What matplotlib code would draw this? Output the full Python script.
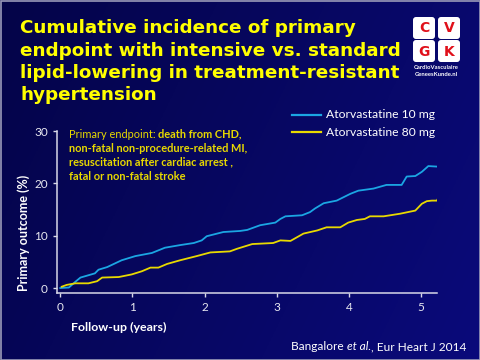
import numpy as np
import matplotlib
matplotlib.use('Agg')
import matplotlib.pyplot as plt
from matplotlib.patches import FancyBboxPatch, Rectangle

# ============================================================
# Data
# ============================================================
t_10mg = [0.0, 0.12, 0.21, 0.28, 0.48, 0.53, 0.65, 0.85, 1.04, 1.27, 1.45, 1.66,
          1.85, 1.96, 2.03, 2.26, 2.49, 2.59, 2.77, 2.98, 3.05, 3.12, 3.35, 3.46,
          3.53, 3.65, 3.83, 4.02, 4.13, 4.34, 4.52, 4.73, 4.80, 4.92, 5.01, 5.10, 5.22]
y_10mg = [0.0, 0.1, 1.2, 2.0, 2.8, 3.5, 4.0, 5.3, 6.1, 6.7, 7.7, 8.2,
          8.6, 9.1, 9.9, 10.7, 10.9, 11.1, 12.0, 12.5, 13.2, 13.7, 13.9, 14.5,
          15.2, 16.2, 16.7, 18.0, 18.6, 19.0, 19.7, 19.7, 21.3, 21.4, 22.2, 23.3, 23.2]

t_80mg = [0.02, 0.09, 0.21, 0.39, 0.51, 0.58, 0.81, 0.99, 1.13, 1.25, 1.36, 1.48,
          1.66, 1.89, 2.08, 2.35, 2.45, 2.66, 2.95, 3.05, 3.19, 3.28, 3.37, 3.56,
          3.69, 3.88, 3.99, 4.11, 4.22, 4.29, 4.48, 4.71, 4.92, 5.01, 5.08, 5.15,
          5.22, 5.24]
y_80mg = [0.25, 0.6, 0.9, 0.9, 1.3, 2.0, 2.1, 2.6, 3.2, 3.9, 3.9, 4.6,
          5.3, 6.1, 6.8, 7.0, 7.5, 8.4, 8.6, 9.1, 9.0, 9.7, 10.4, 11.0,
          11.6, 11.6, 12.5, 13.0, 13.2, 13.7, 13.7, 14.2, 14.8, 16.1, 16.6, 16.7,
          16.7, 17.3]

x_ticks = [0, 1, 2, 3, 4, 5]
y_ticks = [0, 10, 20, 30]

title_lines = ['Cumulative incidence of primary',
               'endpoint with intensive vs. standard',
               'lipid-lowering in treatment-resistant',
               'hypertension']
endpoint_lines = [('Primary endpoint: ', 'death from CHD,'),
                  ('', 'non-fatal non-procedure-related MI,'),
                  ('', 'resuscitation after cardiac arrest ,'),
                  ('', 'fatal or non-fatal stroke')]
legend_labels = ['Atorvastatine 10 mg', 'Atorvastatine 80 mg']

BLUE = '#1ba6e3'
YELLOW = '#e8d900'
TITLE_YELLOW = '#ffff00'
TXT = 'Lato'

fig = plt.figure(figsize=(4.8, 3.6), dpi=100)

# background in pixel coordinates
bg = fig.add_axes([0, 0, 1, 1], zorder=0)
bg.set_xlim(0, 480)
bg.set_ylim(360, 0)
bg.axis('off')
gx = np.linspace(0, 1, 200)
gy = np.linspace(0, 1, 150)
GX, GY = np.meshgrid(gx, gy)
k = np.clip(0.55 * GX + 0.2 * GY, 0, 1)
dark = np.array([4, 4, 72]) / 255
light = np.array([12, 12, 140]) / 255
img = dark[None, None, :] * (1 - k[..., None]) + light[None, None, :] * k[..., None]
bg.imshow(img, extent=(0, 480, 360, 0), aspect='auto', zorder=0)
bg.add_patch(Rectangle((0.5, 0.5), 479, 359, fill=False, edgecolor='#9a9ab8', lw=1.2, zorder=1))

# title
for i, line in enumerate(title_lines):
    bg.text(20, 28 + i * 22.5, line, color=TITLE_YELLOW, fontsize=13.2, fontweight='bold',
            family='DejaVu Sans', va='center', ha='left', zorder=3)

# logo
letters = [('C', 413, 17), ('V', 438, 17), ('G', 413, 40), ('K', 438, 40)]
for ch, lx, ly in letters:
    bg.add_patch(FancyBboxPatch((lx + 1.5, ly + 1.5), 19, 19,
                                boxstyle='round,pad=1.5,rounding_size=3',
                                facecolor='white', edgecolor='none', zorder=3))
    bg.text(lx + 11, ly + 11.5, ch, color='#e0101a', fontsize=10, fontweight='bold',
            family='DejaVu Sans', ha='center', va='center', zorder=4)
bg.text(436.5, 67.5, 'CardioVasculaire', color='white', fontsize=4.2, fontweight='bold',
        family=TXT, ha='center', va='center', zorder=4)
bg.text(436.5, 74.5, 'GeneesKunde.nl', color='white', fontsize=4.2, fontweight='bold',
        family=TXT, ha='center', va='center', zorder=4)

# legend
for i, (lab, col) in enumerate(zip(legend_labels, [BLUE, YELLOW])):
    yy = 115 + i * 17
    bg.plot([292, 321], [yy, yy], color=col, lw=1.6, zorder=3)
    bg.text(326, yy, lab, color='white', fontsize=8.7, family=TXT, va='center', ha='left', zorder=3)

# ============================================================
# Main plot
# ============================================================
ax = fig.add_axes([57 / 480, 1 - 293 / 360, 380 / 480, 162 / 360], zorder=2)
ax.patch.set_alpha(0)
ax.plot(t_10mg, y_10mg, color=BLUE, lw=1.3)
ax.plot(t_80mg, y_80mg, color=YELLOW, lw=1.3)
ax.set_xlim(-0.045, 5.22)
ax.set_ylim(-0.95, 30.0)
ax.set_xticks(x_ticks)
ax.set_yticks(y_ticks)
for side in ['top', 'right']:
    ax.spines[side].set_visible(False)
for side in ['left', 'bottom']:
    ax.spines[side].set_color('#d8d8e8')
    ax.spines[side].set_linewidth(1.1)
ax.tick_params(colors='#d8d8e8', labelcolor='#e8e8f0', length=3, width=1, labelsize=8.5)
for lbl in ax.get_xticklabels() + ax.get_yticklabels():
    lbl.set_family(TXT)

bg.text(24, 233, 'Primary outcome (%)', color='white', fontsize=9, fontweight='bold', family=TXT,
        rotation=90, ha='center', va='center', zorder=3)

# endpoint text, mixed weight
fig.canvas.draw()
renderer = fig.canvas.get_renderer()
for i, (norm, bold) in enumerate(endpoint_lines):
    yy = 134 + i * 14
    x0 = 69
    if norm:
        t = bg.text(x0, yy, norm, color=YELLOW, fontsize=7.9, family=TXT, va='center', zorder=3)
        bb = t.get_window_extent(renderer)
        x0 += bb.width
    bg.text(x0, yy, bold, color=YELLOW, fontsize=7.9, fontweight='bold', family=TXT,
            va='center', zorder=3)

bg.text(71, 327, 'Follow-up (years)', color='white', fontsize=8.9, fontweight='bold', family=TXT,
        va='center', ha='left', zorder=3)

# citation with italic part
x0 = 291
for seg, style in [('Bangalore ', 'normal'), ('et al.', 'italic'), (', Eur Heart J 2014', 'normal')]:
    t = bg.text(x0, 347, seg, color='white', fontsize=8.6, style=style, family=TXT,
                va='center', ha='left', zorder=3)
    x0 += t.get_window_extent(renderer).width

fig.savefig('out.png', dpi=100)
